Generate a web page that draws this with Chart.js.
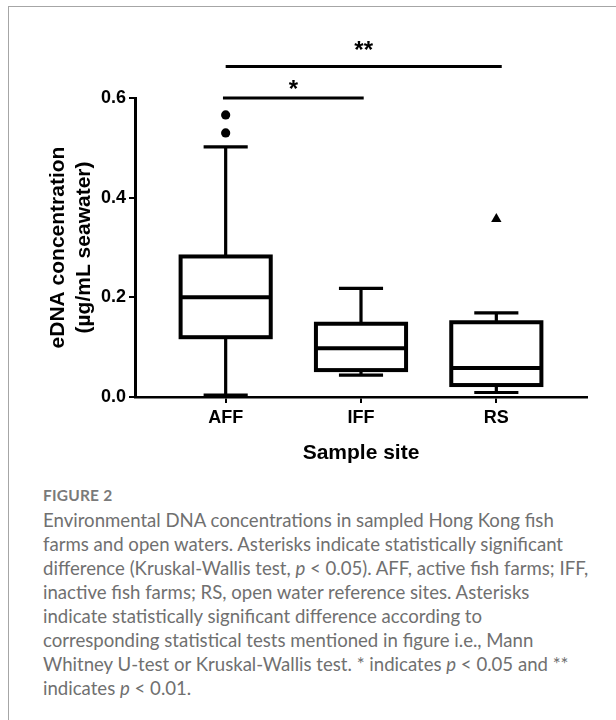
<!DOCTYPE html>
<html>
<head>
<meta charset="utf-8">
<script src="https://cdn.jsdelivr.net/npm/chart.js@4.4.1/dist/chart.umd.min.js"></script>
<style>
  html, body { margin: 0; padding: 0; background: #fff; }
  body { width: 616px; height: 720px; position: relative; overflow: hidden; }
  #frame {
    position: absolute; left: 8px; top: 6px; width: 640px; height: 740px;
    border-left: 1.5px solid #a6a6a6; border-top: 1.5px solid #a6a6a6;
  }
  #chart { position: absolute; left: 0; top: 0; }
  #caption {
    position: absolute; left: 43px; top: 484px; width: 570px;
    font-family: Lato, "Open Sans", sans-serif; color: #6b6b6b;
  }
  #caption .label { font-size: 15.5px; font-weight: 700; letter-spacing: 0.2px; color: #7a7a7a; line-height: 22px; }
  #caption .text { font-size: 18.6px; font-weight: 400; line-height: 24px; white-space: nowrap; margin-top: 2px; color: #707070; }
</style>
</head>
<body>
<div id="frame"></div>
<canvas id="chart" width="616" height="480"></canvas>
<div id="caption">
  <div class="label">FIGURE 2</div>
  <div class="text">
    Environmental DNA concentrations in sampled Hong Kong fish<br>
    farms and open waters. Asterisks indicate statistically significant<br>
    difference (Kruskal-Wallis test, <i>p</i> &lt; 0.05). AFF, active fish farms; IFF,<br>
    inactive fish farms; RS, open water reference sites. Asterisks<br>
    indicate statistically significant difference according to<br>
    corresponding statistical tests mentioned in figure i.e., Mann<br>
    Whitney U-test or Kruskal-Wallis test. * indicates <i>p</i> &lt; 0.05 and **<br>
    indicates <i>p</i> &lt; 0.01.
  </div>
</div>
<script>
// box plot summaries (µg/mL seawater)
const categories = ['AFF', 'IFF', 'RS'];
const whiskerLow = [0.004, 0.044, 0.009];
const q1 = [0.120, 0.054, 0.024];
const median = [0.200, 0.098, 0.058];
const q3 = [0.282, 0.147, 0.150];
const whiskerHigh = [0.502, 0.218, 0.169];

// points beyond the whiskers
const outliersAFF = [0.566, 0.530];
const outliersRS = [0.357];

const yTicks = [0, 0.2, 0.4, 0.6];

// significance brackets (x in category positions, y in data units)
const bracketStart = [0.98, 1.0];
const bracketEnd = [2.02, 3.04];
const bracketLevel = [0.6, 0.663];
const bracketLabels = ['*', '**'];

const boxPlugin = {
    id: 'boxes',
    beforeDatasetsDraw(chart, args, opts) {
        const { ctx, scales: { x, y } } = chart;
        ctx.save();
        ctx.strokeStyle = '#000';
        ctx.lineCap = 'butt';
        categories.forEach((c, i) => {
            const cx = x.getPixelForValue(i + 1);
            const half = x.getPixelForValue(i + 1 + opts.boxHalf) - cx;
            const cap = x.getPixelForValue(i + 1 + opts.capHalf) - cx;
            const yLo = y.getPixelForValue(whiskerLow[i]);
            const yQ1 = y.getPixelForValue(q1[i]);
            const yMed = y.getPixelForValue(median[i]);
            const yQ3 = y.getPixelForValue(q3[i]);
            const yHi = y.getPixelForValue(whiskerHigh[i]);

            ctx.lineWidth = opts.whiskerWidth;
            ctx.beginPath();
            ctx.moveTo(cx, yQ3); ctx.lineTo(cx, yHi);
            ctx.moveTo(cx, yQ1); ctx.lineTo(cx, yLo);
            ctx.moveTo(cx - cap, yHi); ctx.lineTo(cx + cap, yHi);
            ctx.moveTo(cx - cap, yLo); ctx.lineTo(cx + cap, yLo);
            ctx.stroke();

            ctx.lineWidth = opts.boxWidth;
            ctx.fillStyle = '#fff';
            ctx.fillRect(cx - half, yQ3, half * 2, yQ1 - yQ3);
            ctx.strokeRect(cx - half, yQ3, half * 2, yQ1 - yQ3);
            ctx.beginPath();
            ctx.moveTo(cx - half, yMed); ctx.lineTo(cx + half, yMed);
            ctx.stroke();
        });
        ctx.restore();
    },
    afterDraw(chart, args, opts) {
        const { ctx, scales: { x, y } } = chart;
        ctx.save();
        ctx.strokeStyle = '#000';
        ctx.fillStyle = '#000';
        ctx.lineWidth = 3;
        ctx.font = 'bold 24px "Liberation Sans", Arial, sans-serif';
        ctx.textAlign = 'center';
        ctx.textBaseline = 'middle';
        bracketLabels.forEach((lab, i) => {
            const x0 = x.getPixelForValue(bracketStart[i]);
            const x1 = x.getPixelForValue(bracketEnd[i]);
            const yy = y.getPixelForValue(bracketLevel[i]);
            ctx.beginPath();
            ctx.moveTo(x0, yy); ctx.lineTo(x1, yy);
            ctx.stroke();
            ctx.fillText(lab, (x0 + x1) / 2, yy - opts.labelOffset[i]);
        });
        ctx.restore();
    }
};

const ctx = document.getElementById('chart').getContext('2d');

new Chart(ctx, {
    type: 'scatter',
    data: {
        datasets: [
            {
                data: outliersAFF.map(v => ({ x: categories.indexOf('AFF') + 1, y: v })),
                pointStyle: 'circle',
                radius: 4.6,
                backgroundColor: '#000',
                borderWidth: 0
            },
            {
                data: outliersRS.map(v => ({ x: categories.indexOf('RS') + 1, y: v })),
                pointStyle: 'triangle',
                radius: 6,
                backgroundColor: '#000',
                borderWidth: 0
            }
        ]
    },
    options: {
        responsive: false,
        animation: false,
        devicePixelRatio: 1,
        events: [],
        layout: { padding: { top: 98, right: 29, bottom: 0, left: 0 } },
        plugins: {
            legend: { display: false },
            tooltip: { enabled: false },
            boxes: {
                boxHalf: 0.333,
                capHalf: 0.163,
                boxWidth: 4,
                whiskerWidth: 3.2,
                labelOffset: [8, 15]
            }
        },
        scales: {
            x: {
                type: 'linear',
                min: 0.33,
                max: 3.67,
                afterBuildTicks: axis => { axis.ticks = categories.map((c, i) => ({ value: i + 1 })); },
                afterFit: axis => { axis.height = 83; },
                border: { display: true, color: '#000', width: 2.6 },
                grid: { display: true, drawOnChartArea: false, drawTicks: true, tickLength: 6, color: '#000', lineWidth: 2 },
                ticks: {
                    padding: 4,
                    color: '#000',
                    font: { family: '"Liberation Sans", Arial, sans-serif', size: 18, weight: 'bold' },
                    callback: v => categories[v - 1]
                },
                title: {
                    display: true,
                    text: 'Sample site',
                    color: '#000',
                    font: { family: '"Liberation Sans", Arial, sans-serif', size: 21, weight: 'bold', lineHeight: 1.2 },
                    padding: { top: 0, bottom: 14 }
                }
            },
            y: {
                min: 0,
                max: 0.6,
                afterBuildTicks: axis => { axis.ticks = yTicks.map(v => ({ value: v })); },
                afterFit: axis => { axis.width = 135; },
                border: { display: true, color: '#000', width: 3 },
                grid: { display: true, drawOnChartArea: false, drawTicks: true, tickLength: 6, color: '#000', lineWidth: 2 },
                ticks: {
                    padding: 3,
                    color: '#000',
                    font: { family: '"Liberation Sans", Arial, sans-serif', size: 18, weight: 'bold' },
                    callback: v => v.toFixed(1)
                },
                title: {
                    display: true,
                    text: ['eDNA concentration', '(µg/mL seawater)'],
                    color: '#000',
                    font: { family: '"Liberation Sans", Arial, sans-serif', size: 21, weight: 'bold', lineHeight: 1.2 },
                    padding: { top: 46, bottom: 0 }
                }
            }
        }
    },
    plugins: [boxPlugin]
});
</script>
</body>
</html>
